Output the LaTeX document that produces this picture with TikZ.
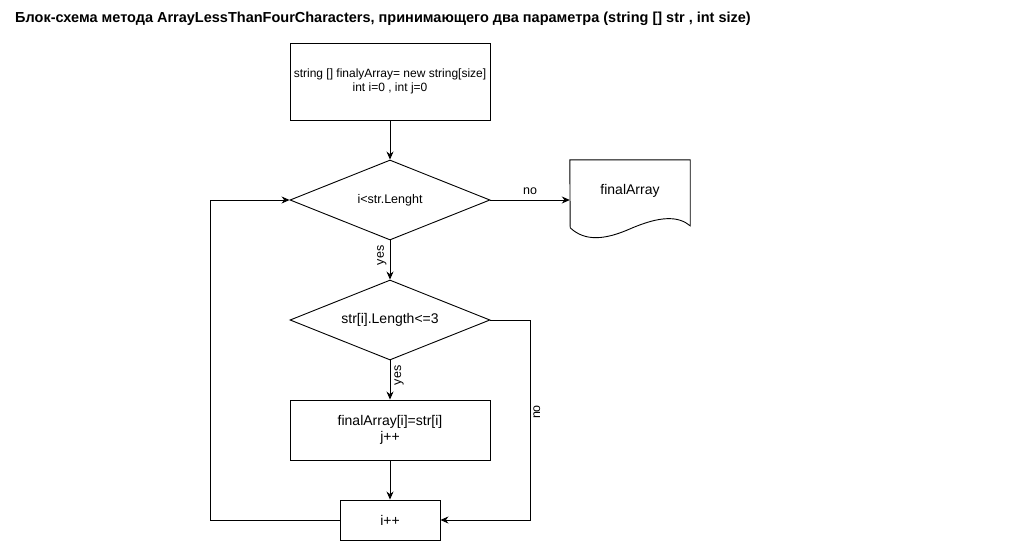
\documentclass[tikz,border=0pt]{standalone}
\usepackage{fontspec}
\setmainfont{Liberation Sans}
\usetikzlibrary{shapes.geometric,arrows.meta}
\begin{document}
\begin{tikzpicture}[%%
  x=1pt,y=-1pt,
  lineStyle/.style={-{Stealth[length=8pt,width=7pt]},line width=0.9pt},%%
  boxStyle/.style={draw,line width=0.9pt,rectangle,minimum width=200pt,align=center,
    font=\fontsize{14}{16}\selectfont},%%
  decisionStyle/.style={draw,line width=0.9pt,diamond,aspect=2.5,inner sep=0pt,
    minimum width=200pt,minimum height=80pt,font=\fontsize{12.5}{14}\selectfont},%%
  labelStyle/.style={font=\fontsize{12.5}{14}\selectfont,inner sep=1pt}
]
%%
%% Fix the size of the page.
\useasboundingbox (0,0) rectangle (1031,551);
%%
%% Title.
\node[anchor=west,inner sep=0pt,font=\bfseries\fontsize{14.5}{16}\selectfont]
  (title) at (15,19) {Блок-схема метода ArrayLessThanFourCharacters, принимающего два параметра (string [] str , int size)};
%%
%% Blocks of the flow chart.
\node[boxStyle,minimum height=77pt,font=\fontsize{12}{14}\selectfont] (init) at (390,81.5)
  {string [] finalyArray= new string[size]\\int i=0 , int j=0};
\node[decisionStyle] (loopTest) at (390,200) {i<str.Lenght};
\node[decisionStyle,font=\fontsize{14}{16}\selectfont] (lenTest) at (390,320) {str[i].Length<=3};
\node[boxStyle,minimum height=60pt] (assign) at (390,430)
  {finalArray[i]=str[i]\\j++};
\node[boxStyle,minimum width=100pt,minimum height=40pt] (incr) at (390,520) {i++};
%% Output document with a wavy lower edge.
\node[minimum width=120pt,minimum height=80pt,text depth=22pt,
  font=\fontsize{14}{16}\selectfont] (result) at (630,200) {finalArray};
\draw[line width=0.9pt] (result.north west) -- (result.north east) -- ++(0,66)
  .. controls ++(-12,-10) and ++(30,-13) .. ++(-60,3)
  .. controls ++(-25,11) and ++(15,14) .. ++(-60,-1) -- cycle;
%%
%% Connectors.
\draw[lineStyle] (init) -- (loopTest);
\draw[lineStyle] (loopTest.east) -- (result.west)
  node[labelStyle,midway,above=4pt] (noOne) {no};
\draw[lineStyle] (loopTest) -- (lenTest)
  node[labelStyle,pos=0.38,rotate=90,anchor=south,inner sep=3pt] (yesOne) {yes};
\draw[lineStyle] (lenTest) -- (assign)
  node[labelStyle,pos=0.38,rotate=90,anchor=north,inner sep=4pt] (yesTwo) {yes};
\draw[lineStyle] (assign) -- (incr);
\coordinate (rightTurn) at (530,320);
\draw[lineStyle] (lenTest.east) -- (rightTurn) -- (rightTurn |- incr.east)
  node[labelStyle,pos=0.46,rotate=90,anchor=north,inner sep=3pt] (noTwo) {no} -- (incr.east);
\coordinate (leftTurn) at (210,520);
\draw[lineStyle] (incr.west) -- (leftTurn) -- (leftTurn |- loopTest.west) -- (loopTest.west);
\end{tikzpicture}
\end{document}
